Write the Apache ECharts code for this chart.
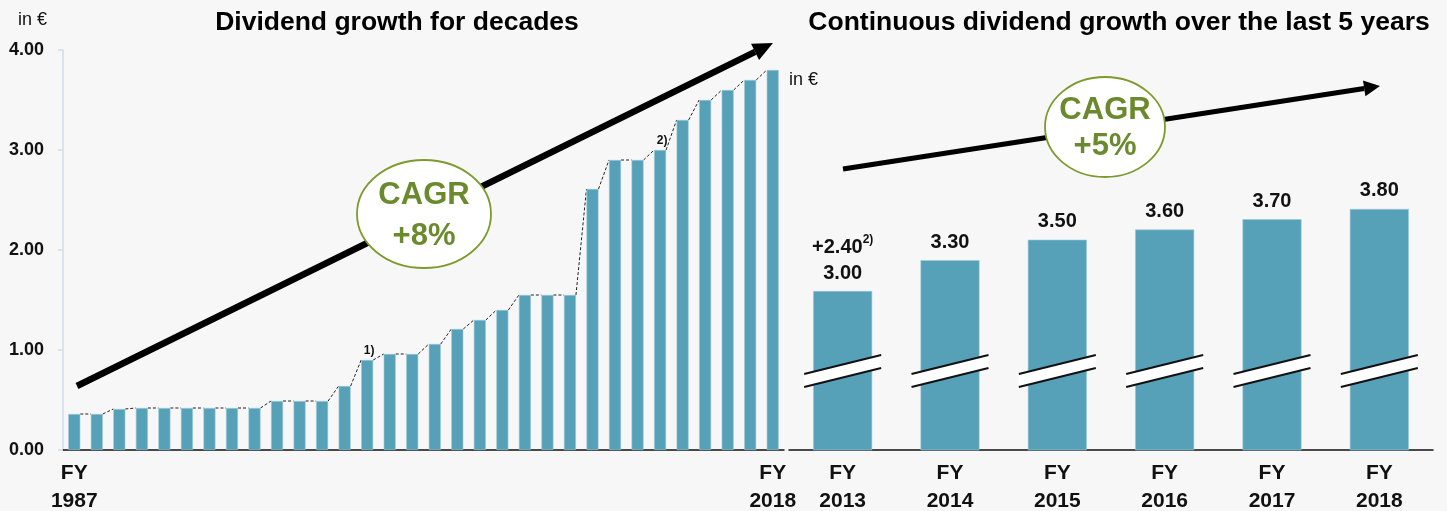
<!DOCTYPE html>
<html>
<head>
<meta charset="utf-8">
<script src="https://cdn.jsdelivr.net/npm/echarts@6/dist/echarts.min.js"></script>
<style>
  html, body { margin: 0; padding: 0; background: #f7f7f7; }
  #main { width: 1447px; height: 511px; }
</style>
</head>
<body>
<div id="main"></div>
<script>
var myChart = echarts.init(document.getElementById('main'));

// left panel: dividend per share 1987 - 2018
var leftYears = ['1987','1988','1989','1990','1991','1992','1993','1994','1995','1996',
                 '1997','1998','1999','2000','2001','2002','2003','2004','2005','2006',
                 '2007','2008','2009','2010','2011','2012','2013','2014','2015','2016',
                 '2017','2018'];
var leftDividend = [0.36, 0.36, 0.41, 0.42, 0.42, 0.42, 0.42, 0.42, 0.42, 0.49,
                    0.49, 0.49, 0.64, 0.90, 0.96, 0.96, 1.06, 1.21, 1.30, 1.40,
                    1.55, 1.55, 1.55, 2.61, 2.90, 2.90, 3.00, 3.30, 3.50, 3.60,
                    3.70, 3.80];
var leftTicks = [0, 1, 2, 3, 4];
// footnote markers above some bars
var noteIndex = [13, 26];
var noteText = ['1)', '2)'];

// right panel: last 5 years
var rightYears = ['2013', '2014', '2015', '2016', '2017', '2018'];
var rightDividend = [3.00, 3.30, 3.50, 3.60, 3.70, 3.80];
var specialDividend = '+2.40';   // extra on FY 2013
var specialNote = '2)';

var FONT = '"Liberation Sans", Arial, sans-serif';
var BAR = '#56a0b8';
var GREEN = '#6b8a2e';

// level of the axis break marks (value on the hidden right axis)
var breakLevel = 2.22;

var leftData = leftDividend.map(function (v, i) {
    var k = noteIndex.indexOf(i);
    if (k < 0) return v;
    return {
        value: v,
        label: {
            show: true, position: 'top', distance: 3, offset: [2, 0],
            formatter: noteText[k],
            fontFamily: FONT, fontSize: 12, fontWeight: 'bold', color: '#111'
        }
    };
});

function arrowHead(tip, from, len, half) {
    var dx = tip[0] - from[0], dy = tip[1] - from[1];
    var l = Math.sqrt(dx * dx + dy * dy);
    var ux = dx / l, uy = dy / l;
    var bx = tip[0] - ux * len, by = tip[1] - uy * len;
    return {
        base: [bx, by],
        points: [tip, [bx - uy * half, by + ux * half], [bx + uy * half, by - ux * half]]
    };
}

var la = arrowHead([773, 43], [77, 386], 20, 9);
var ra = arrowHead([1380, 86], [843, 169], 16, 8);

myChart.setOption({
    backgroundColor: '#f7f7f7',
    animation: false,
    textStyle: { fontFamily: FONT },
    grid: [
        { left: 63, right: 663, top: 50, bottom: 61, outerBoundsMode: 'none', containLabel: false },
        { left: 789, right: 14, top: 50, bottom: 61, outerBoundsMode: 'none', containLabel: false }
    ],
    xAxis: [
        {
            type: 'category', gridIndex: 0, data: leftYears,
            axisLine: { lineStyle: { color: '#111', width: 1.5 } },
            axisTick: { show: false },
            axisLabel: {
                interval: function (i) { return i === 0 || i === leftYears.length - 1; },
                formatter: function (v) { return 'FY\n' + v; },
                margin: 9, lineHeight: 28,
                fontFamily: FONT, fontSize: 21, fontWeight: 'bold', color: '#111'
            }
        },
        {
            type: 'category', gridIndex: 1, data: rightYears,
            axisLine: { lineStyle: { color: '#111', width: 1.5 } },
            axisTick: { show: false },
            axisLabel: {
                formatter: function (v) { return 'FY\n' + v; },
                margin: 9, lineHeight: 28,
                fontFamily: FONT, fontSize: 21, fontWeight: 'bold', color: '#111'
            }
        }
    ],
    yAxis: [
        {
            type: 'value', gridIndex: 0,
            min: leftTicks[0], max: leftTicks[leftTicks.length - 1], interval: 1,
            axisLine: { show: true, lineStyle: { color: '#d3dbe8', width: 1.5 } },
            axisTick: { show: true, length: 5, lineStyle: { color: '#d3dbe8', width: 1.5 } },
            splitLine: { show: false },
            axisLabel: {
                margin: 19, padding: [5, 0, 0, 0],
                formatter: function (v) { return v.toFixed(2); },
                fontFamily: FONT, fontSize: 18, fontWeight: 'bold', color: '#111'
            }
        },
        {
            type: 'value', gridIndex: 1, min: 1.45, max: 5.35, show: false,
            splitLine: { show: false }
        }
    ],
    series: [
        {
            type: 'bar', xAxisIndex: 0, yAxisIndex: 0,
            data: leftData, barWidth: 12,
            itemStyle: { color: BAR, borderColor: '#9cc9d6', borderWidth: 0.6 }
        },
        {
            // dashed steps between the tops of neighbouring bars
            type: 'custom', xAxisIndex: 0, yAxisIndex: 0, silent: true,
            data: leftDividend.map(function (v, i) { return [i, v]; }),
            encode: { x: 0, y: 1 },
            renderItem: function (params, api) {
                var i = params.dataIndex;
                if (i >= leftDividend.length - 1) return;
                var p0 = api.coord([i, leftDividend[i]]);
                var p1 = api.coord([i + 1, leftDividend[i + 1]]);
                return {
                    type: 'line',
                    shape: { x1: p0[0] + 6, y1: p0[1], x2: p1[0] - 6, y2: p1[1] },
                    style: { stroke: '#222', lineWidth: 1, lineDash: [3, 2] }
                };
            },
            z: 1
        },
        {
            type: 'bar', xAxisIndex: 1, yAxisIndex: 1,
            data: rightDividend, barWidth: 59,
            itemStyle: { color: BAR, borderColor: '#9cc9d6', borderWidth: 0.6 },
            label: {
                show: true, position: 'top', distance: 5,
                formatter: function (p) {
                    var t = '{a|' + p.value.toFixed(2) + '}';
                    if (p.dataIndex === 0) t = '{a|' + specialDividend + '}{s|' + specialNote + '}\n' + t;
                    return t;
                },
                rich: {
                    a: { fontFamily: FONT, fontSize: 20, fontWeight: 'bold', color: '#111', lineHeight: 26 },
                    s: { fontFamily: FONT, fontSize: 12, fontWeight: 'bold', color: '#111', lineHeight: 26, verticalAlign: 'top', padding: [0, 0, 10, 0] }
                }
            }
        },
        {
            // axis break marks drawn across each bar
            type: 'custom', xAxisIndex: 1, yAxisIndex: 1, silent: true,
            data: rightDividend.map(function (v, i) { return [i, v]; }),
            encode: { x: 0, y: 1 },
            renderItem: function (params, api) {
                var c = api.coord([params.dataIndex, breakLevel]);
                var x = c[0], y = c[1], w = 38.5;
                return {
                    type: 'group',
                    children: [
                        { type: 'polygon', shape: { points: [[x - w, y + 3], [x + w, y - 16], [x + w, y - 3], [x - w, y + 16]] },
                          style: { fill: '#ffffff' } },
                        { type: 'line', shape: { x1: x - w, y1: y + 3, x2: x + w, y2: y - 16 },
                          style: { stroke: '#111', lineWidth: 2 } },
                        { type: 'line', shape: { x1: x - w, y1: y + 16, x2: x + w, y2: y - 3 },
                          style: { stroke: '#111', lineWidth: 2 } }
                    ]
                };
            },
            z: 5
        }
    ],
    graphic: [
        { type: 'text', x: 397, y: 23, z: 100,
          style: { text: 'Dividend growth for decades', font: 'bold 26.5px ' + FONT, fill: '#000', textAlign: 'center', textVerticalAlign: 'middle' } },
        { type: 'text', x: 1119, y: 23, z: 100,
          style: { text: 'Continuous dividend growth over the last 5 years', font: 'bold 26.5px ' + FONT, fill: '#000', textAlign: 'center', textVerticalAlign: 'middle' } },
        { type: 'text', x: 18, y: 20, z: 100,
          style: { text: 'in €', font: '18px ' + FONT, fill: '#111', textAlign: 'left', textVerticalAlign: 'middle' } },
        { type: 'text', x: 789, y: 80, z: 100,
          style: { text: 'in €', font: '18px ' + FONT, fill: '#111', textAlign: 'left', textVerticalAlign: 'middle' } },

        // long-term growth arrow
        { type: 'line', z: 100, shape: { x1: 77, y1: 386, x2: la.base[0], y2: la.base[1] },
          style: { stroke: '#000', lineWidth: 6.5 } },
        { type: 'polygon', z: 100, shape: { points: la.points }, style: { fill: '#000' } },
        { type: 'ellipse', z: 101, shape: { cx: 424, cy: 214, rx: 67, ry: 54 },
          style: { fill: '#ffffff', stroke: '#7d9a2d', lineWidth: 1.8 } },
        { type: 'text', x: 424, y: 195, z: 102,
          style: { text: 'CAGR', font: 'bold 31px ' + FONT, fill: GREEN, textAlign: 'center', textVerticalAlign: 'middle' } },
        { type: 'text', x: 424, y: 236, z: 102,
          style: { text: '+8%', font: 'bold 31px ' + FONT, fill: GREEN, textAlign: 'center', textVerticalAlign: 'middle' } },

        // 5-year growth arrow
        { type: 'line', z: 100, shape: { x1: 843, y1: 169, x2: ra.base[0], y2: ra.base[1] },
          style: { stroke: '#000', lineWidth: 5 } },
        { type: 'polygon', z: 100, shape: { points: ra.points }, style: { fill: '#000' } },
        { type: 'ellipse', z: 101, shape: { cx: 1105, cy: 127, rx: 60, ry: 50 },
          style: { fill: '#ffffff', stroke: '#7d9a2d', lineWidth: 1.8 } },
        { type: 'text', x: 1105, y: 110, z: 102,
          style: { text: 'CAGR', font: 'bold 31px ' + FONT, fill: GREEN, textAlign: 'center', textVerticalAlign: 'middle' } },
        { type: 'text', x: 1105, y: 146, z: 102,
          style: { text: '+5%', font: 'bold 31px ' + FONT, fill: GREEN, textAlign: 'center', textVerticalAlign: 'middle' } }
    ]
});
</script>
</body>
</html>
